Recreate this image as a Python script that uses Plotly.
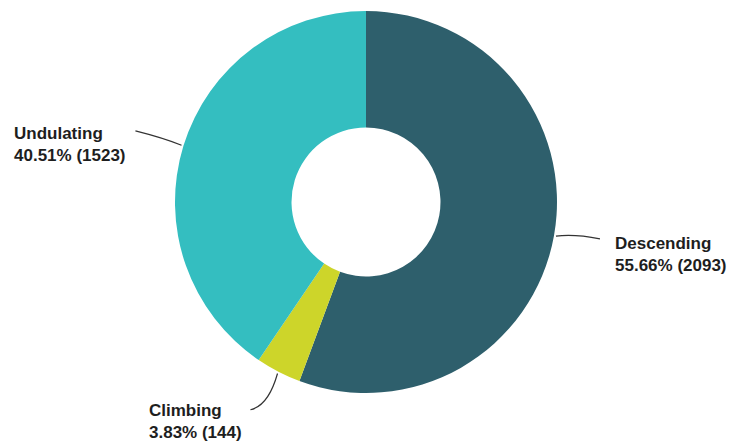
import math
import plotly.graph_objects as go

# Terrain breakdown
categories = ["Descending", "Climbing", "Undulating"]
counts = [2093, 144, 1523]
percent_labels = ["55.66%", "3.83%", "40.51%"]
colors = ["#2e5f6c", "#cdd52a", "#34bec0"]

W, H = 732, 441
CX, CY, R = 366, 202, 191  # donut centre and outer radius in pixels

def px(x):
    return x / W

def py(y):
    return 1 - y / H

fig = go.Figure(go.Pie(
    labels=categories,
    values=counts,
    marker=dict(colors=colors, line=dict(width=0)),
    hole=0.39,
    sort=False,
    direction="clockwise",
    rotation=0,
    textinfo="none",
    hoverinfo="label+percent+value",
    showlegend=False,
    domain=dict(x=[px(CX - R), px(CX + R)], y=[py(CY + R), py(CY - R)]),
))

# Leader line layout per slice: end of line offset from the rim point,
# bend control offset, and label placement relative to the line end
label_layout = {
    "Descending": dict(end=(46, 3), ctrl=(20, -2), text_dx=13, text_dy=16),
    "Climbing": dict(end=(-28, 38), ctrl=(-10, 34), text_dx=-103, text_dy=12),
    "Undulating": dict(end=(-48, -15), ctrl=(-20, -8), text_dx=-123, text_dy=14),
}

total = sum(counts)
cum = 0.0
shapes = []
annotations = []
for name, val, pct in zip(categories, counts, percent_labels):
    mid = (cum + val / 2) / total * 2 * math.pi
    cum += val
    ex = CX + R * math.sin(mid)
    ey = CY - R * math.cos(mid)
    lay = label_layout[name]
    x1, y1 = ex + lay["end"][0], ey + lay["end"][1]
    cxp, cyp = ex + lay["ctrl"][0], ey + lay["ctrl"][1]
    path = "M {:.5f},{:.5f} Q {:.5f},{:.5f} {:.5f},{:.5f}".format(
        px(ex + 2 * math.sin(mid)), py(ey - 2 * math.cos(mid)),
        px(cxp), py(cyp), px(x1), py(y1))
    shapes.append(dict(type="path", xref="paper", yref="paper", path=path,
                       line=dict(color="#333333", width=1.2)))
    tx = x1 + lay["text_dx"]
    ty = y1 + lay["text_dy"]
    annotations.append(dict(
        x=px(tx), y=py(ty), xref="paper", yref="paper",
        text="<b>{}</b><br><b>{} ({})</b>".format(name, pct, val),
        showarrow=False, xanchor="left", yanchor="middle", align="left",
        font=dict(family="Liberation Sans, Arial, sans-serif", size=17, color="#1e1e1e"),
    ))

fig.update_layout(
    width=W, height=H,
    margin=dict(l=0, r=0, t=0, b=0),
    paper_bgcolor="white",
    plot_bgcolor="white",
    shapes=shapes,
    annotations=annotations,
)

fig.write_html("out.html")
